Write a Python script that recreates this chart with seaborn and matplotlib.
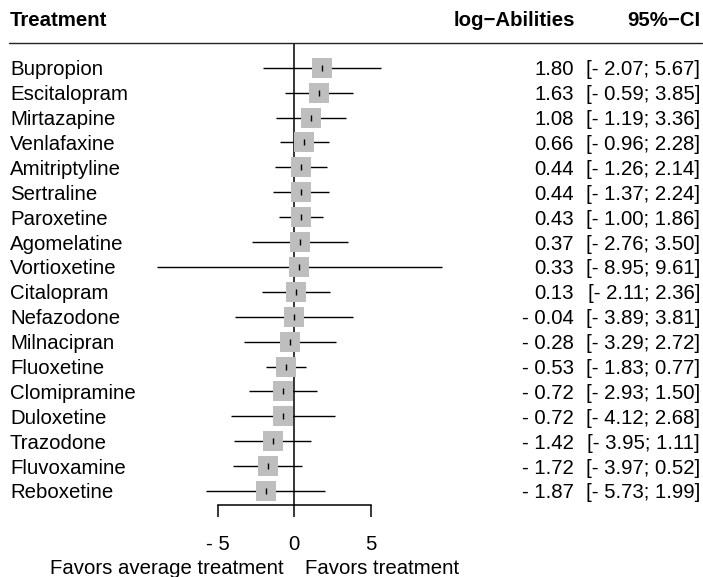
import pandas as pd
import numpy as np
import matplotlib
matplotlib.use("Agg")
import matplotlib.pyplot as plt
import seaborn as sns

treatments = ["Bupropion", "Escitalopram", "Mirtazapine", "Venlafaxine", "Amitriptyline",
              "Sertraline", "Paroxetine", "Agomelatine", "Vortioxetine", "Citalopram",
              "Nefazodone", "Milnacipran", "Fluoxetine", "Clomipramine", "Duloxetine",
              "Trazodone", "Fluvoxamine", "Reboxetine"]
estimate = [1.80, 1.63, 1.08, 0.66, 0.44, 0.44, 0.43, 0.37, 0.33, 0.13,
            -0.04, -0.28, -0.53, -0.72, -0.72, -1.42, -1.72, -1.87]
lower = [-2.07, -0.59, -1.19, -0.96, -1.26, -1.37, -1.00, -2.76, -8.95, -2.11,
         -3.89, -3.29, -1.83, -2.93, -4.12, -3.95, -3.97, -5.73]
upper = [5.67, 3.85, 3.36, 2.28, 2.14, 2.24, 1.86, 3.50, 9.61, 2.36,
         3.81, 2.72, 0.77, 1.50, 2.68, 1.11, 0.52, 1.99]
axis_ticks = [-5, 0, 5]

df = pd.DataFrame({"treatment": treatments, "est": estimate, "lo": lower, "hi": upper})
df["row"] = np.arange(len(df))


def fmt(v):
    return f"{v:.2f}".replace("-", "- ")


sns.set_theme(style="white")
plt.rcParams["font.family"] = ["Liberation Sans", "DejaVu Sans"]
plt.rcParams["text.color"] = "black"
fs = 14.7

W, H = 703, 577
fig = plt.figure(figsize=(W / 100, H / 100), dpi=100)
ax = fig.add_axes([0, 0, 1, 1])

# pixel layout -> data limits
x0_px, unit_px = 294.3, 15.33
row0_px, row_px = 67.7, 24.9
ax.set_xlim(-x0_px / unit_px, (W - x0_px) / unit_px)
ax.set_ylim((H - row0_px) / row_px, -row0_px / row_px)


def ypx(p):
    return (p - row0_px) / row_px


header_y = ypx(42.7)
axis_y = ypx(505)

# CI lines, boxes, point ticks
ax.hlines(df["row"], df["lo"], df["hi"], color="black", lw=1.0, zorder=2)
sns.scatterplot(data=df, x="est", y="row", marker="s", s=13.9 ** 2, color="#BEBEBE",
                linewidth=0, ax=ax, zorder=3, legend=False)
sns.scatterplot(data=df, x="est", y="row", marker="|", s=4.6 ** 2, color="black",
                linewidth=1.0, ax=ax, zorder=4, legend=False)

# reference line and header rule
ax.vlines(0, header_y, axis_y, color="black", lw=1.1, zorder=1)
ax.axhline(header_y, xmin=9 / W, xmax=702 / W, color="#222222", lw=1.0)

# bottom axis
for s in ["top", "right", "left"]:
    ax.spines[s].set_visible(False)
ax.spines["bottom"].set_position(("data", axis_y))
ax.spines["bottom"].set_bounds(-5, 5)
ax.spines["bottom"].set_color("black")
ax.spines["bottom"].set_linewidth(1.1)
ax.set_xticks(axis_ticks)
ax.set_xticklabels([fmt(t).replace(".00", "") for t in axis_ticks])
ax.tick_params(axis="x", bottom=True, direction="out", length=8.6, width=1.1,
               color="black", labelsize=fs, labelcolor="black", pad=13)
ax.set_yticks([])
ax.set_xlabel("")
ax.set_ylabel("")

# text columns
yt = ax.get_yaxis_transform()
for _, r in df.iterrows():
    ax.text(10 / W, r["row"], r["treatment"], transform=yt, ha="left",
            va="center_baseline", fontsize=fs)
    ax.text(574 / W, r["row"], fmt(r["est"]), transform=yt, ha="right",
            va="center_baseline", fontsize=fs)
    ax.text(700 / W, r["row"], f"[{fmt(r['lo'])}; {fmt(r['hi'])}]", transform=yt,
            ha="right", va="center_baseline", fontsize=fs)

hy = ypx(18)
ax.text(10 / W, hy, "Treatment", transform=yt, ha="left", va="center_baseline",
        fontsize=fs, fontweight="bold")
ax.text(575 / W, hy, "log\u2212Abilities", transform=yt, ha="right",
        va="center_baseline", fontsize=fs, fontweight="bold")
ax.text(700 / W, hy, "95%\u2212CI", transform=yt, ha="right", va="center_baseline",
        fontsize=fs, fontweight="bold")

ly = ypx(566)
ax.text(284 / W, ly, "Favors average treatment", transform=yt, ha="right",
        va="center_baseline", fontsize=fs)
ax.text(305 / W, ly, "Favors treatment", transform=yt, ha="left",
        va="center_baseline", fontsize=fs)

fig.savefig("out.png", dpi=100)
